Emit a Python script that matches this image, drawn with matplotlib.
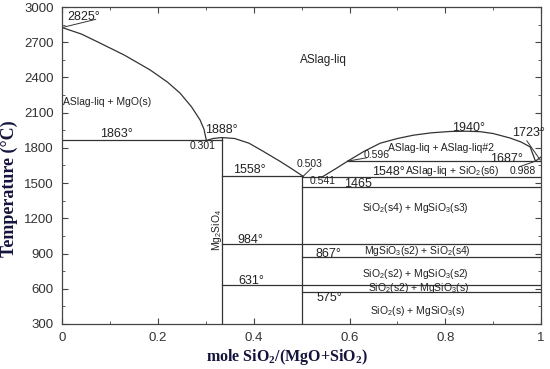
import matplotlib
matplotlib.use("Agg")
import matplotlib.pyplot as plt
from matplotlib.ticker import MultipleLocator

plt.rcParams['font.family'] = ['Liberation Sans', 'DejaVu Sans']
plt.rcParams['mathtext.default'] = 'regular'

# --- data ---
# MgO liquidus
mgo_x = [0.0, 0.04, 0.079, 0.13, 0.184, 0.22, 0.246, 0.27, 0.288, 0.296, 0.301]
mgo_t = [2825, 2770, 2693, 2590, 2463, 2360, 2267, 2150, 2037, 1960, 1863]
# Mg2SiO4 liquidus
fo_x = [0.301, 0.315, 0.333, 0.36, 0.39, 0.42, 0.455, 0.48, 0.503]
fo_t = [1863, 1880, 1888, 1880, 1840, 1770, 1685, 1620, 1558]
# SiO2-rich liquidus + miscibility dome
rl_x = [0.541, 0.57, 0.596]
rl_t = [1548, 1620, 1687]
dome_x = [0.596, 0.63, 0.664, 0.70, 0.733, 0.77, 0.81, 0.845, 0.873, 0.90, 0.935, 0.958, 0.977, 0.988]
dome_t = [1687, 1770, 1840, 1880, 1908, 1928, 1940, 1942, 1938, 1922, 1884, 1850, 1808, 1687]
cr_x = [0.988, 1.0]
cr_t = [1687, 1723]

# isotherms: (temperature, x_start, x_end)
iso_t = [1863, 1558, 1687, 1548, 1465, 984, 867, 631, 575]
iso_x0 = [0.0, 0.333, 0.596, 0.5, 0.5, 0.333, 0.5, 0.333, 0.5]
iso_x1 = [0.333, 0.5, 1.0, 1.0, 1.0, 1.0, 1.0, 1.0, 1.0]

# compounds (vertical lines)
comp_x = [1/3, 0.5]
comp_top = [1888, 1558]

fig = plt.figure(figsize=(5.5, 3.69), dpi=100)
ax = fig.add_axes([0.113, 0.122, 0.871, 0.859])
lc = '#333333'
lw = 0.9
ax.plot(mgo_x, mgo_t, color=lc, lw=lw)
ax.plot(fo_x, fo_t, color=lc, lw=lw)
ax.plot(rl_x, rl_t, color=lc, lw=lw)
ax.plot(dome_x, dome_t, color=lc, lw=lw)
ax.plot(cr_x, cr_t, color=lc, lw=lw)
for t, a, b in zip(iso_t, iso_x0, iso_x1):
    ax.plot([a, b], [t, t], color=lc, lw=lw)
for x, top in zip(comp_x, comp_top):
    ax.plot([x, x], [300, top], color=lc, lw=lw)

# leader lines
leaders = [((0.0, 2825), (0.07, 2895)),
           ((0.503, 1558), (0.52, 1625)),
           ((0.600, 1690), (0.635, 1715)),
           ((0.988, 1687), (0.955, 1640)),
           ((0.998, 1697), (0.97, 1860))]
for (x0, y0), (x1, y1) in leaders:
    ax.plot([x0, x1], [y0, y1], color=lc, lw=0.7)

tc = '#222222'
NF = 9      # numbers
LF = 7.5    # phase labels
def T(x, y, s, fs=LF, **kw):
    ax.text(x, y, s, fontsize=fs, color=tc, ha='left', va='center', **kw)

T(0.010, 2915, '2825°', fs=NF)
T(0.497, 2549, 'ASlag-liq', fs=8.5)
T(0.002, 2191, 'ASlag-liq + MgO(s)')
T(0.079, 1915, '1863°', fs=NF)
T(0.266, 1816, '0.301')
T(0.298, 1950, '1888°', fs=NF)
T(0.356, 1612, '1558°', fs=NF)
T(0.489, 1663, '0.503')
T(0.516, 1518, '0.541')
T(0.589, 1492, '1465', fs=NF)
T(0.630, 1740, '0.596')
T(0.680, 1799, 'ASlag-liq + ASlag-liq#2')
T(0.814, 1969, '1940°', fs=NF)
T(0.939, 1927, '1723°', fs=NF)
T(0.894, 1705, '1687°', fs=NF)
T(0.647, 1595, '1548°', fs=NF)
T(0.716, 1603, 'ASlag-liq + SiO$_2$(s6)')
T(0.935, 1603, '0.988')
T(0.626, 1288, 'SiO$_2$(s4) + MgSiO$_3$(s3)')
T(0.365, 1016, '984°', fs=NF)
T(0.528, 896, '867°', fs=NF)
T(0.630, 922, 'MgSiO$_3$(s2) + SiO$_2$(s4)')
T(0.626, 726, 'SiO$_2$(s2) + MgSiO$_3$(s2)')
T(0.367, 666, '631°', fs=NF)
T(0.639, 607, 'SiO$_2$(s2) + MgSiO$_3$(s)')
T(0.532, 522, '575°', fs=NF)
T(0.643, 411, 'SiO$_2$(s) + MgSiO$_3$(s)')
ax.text(0.323, 1100, 'Mg$_2$SiO$_4$', fontsize=7.5, color=tc, rotation=90,
        ha='center', va='center')

ax.set_xlim(0, 1)
ax.set_ylim(300, 3000)
ax.xaxis.set_minor_locator(MultipleLocator(0.1))
ax.yaxis.set_major_locator(MultipleLocator(300))
ax.yaxis.set_minor_locator(MultipleLocator(150))
ax.set_xticks([0, 0.2, 0.4, 0.6, 0.8, 1.0])
ax.set_xticklabels(['0', '0.2', '0.4', '0.6', '0.8', '1'])
ax.tick_params(which='both', direction='in', top=True, right=True, color='#444444')
ax.tick_params(which='major', length=4, labelsize=9.5, labelcolor='#333333', pad=6)
ax.tick_params(which='minor', length=2)
for s in ax.spines.values():
    s.set_color('#444444')
    s.set_linewidth(0.9)

navy = '#14143c'
ax.set_xlabel('mole SiO$_2$/(MgO+SiO$_2$)', fontsize=11.5, fontweight='bold',
              family='Liberation Serif', color=navy)
ax.xaxis.set_label_coords(0.47, -0.072)
ax.set_ylabel('Temperature (°C)', fontsize=13, fontweight='bold',
              family='Liberation Serif', color=navy)
ax.yaxis.set_label_coords(-0.093, 0.426)

fig.savefig('out.png', dpi=100)
